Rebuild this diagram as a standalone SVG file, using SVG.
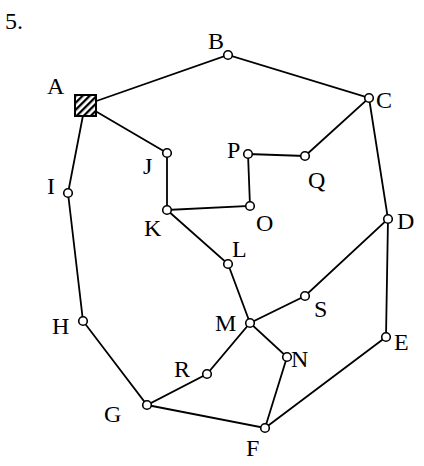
<svg xmlns="http://www.w3.org/2000/svg" width="424" height="466" viewBox="0 0 424 466">
<style>
.e{stroke:#000;stroke-width:1.8;fill:none;stroke-linecap:round}
.n{fill:#fff;stroke:#000;stroke-width:1.6}
text{font-family:"Liberation Serif","Times New Roman",serif;font-size:24px;fill:#000}
</style>
<defs>
<pattern id="h" patternUnits="userSpaceOnUse" width="5" height="5" patternTransform="rotate(45)">
<rect width="5" height="5" fill="#fff"/>
<line x1="1" y1="0" x2="1" y2="5" stroke="#000" stroke-width="2.6"/>
</pattern>
</defs>
<rect width="424" height="466" fill="#fff"/>
<text x="5" y="29">5.</text>
<g id="edges">
<path class="e" d="M85,105 L228,55 L369,98 L305,156 L248,154 L250,206 L167,210 L167,153 L85,105"/>
<path class="e" d="M85,105 L68,193 L83,321 L147,405 L207,374 L250,323 L305,296 L388,219 L369,98"/>
<path class="e" d="M388,219 L386,337 L265,428 L147,405"/>
<path class="e" d="M265,428 L287,357 L250,323 L228,264 L167,210"/>
</g>
<g id="A"><rect x="75" y="95" width="21" height="21" fill="url(#h)" stroke="#000" stroke-width="2"/><text x="47" y="94">A</text></g>
<g id="B"><circle class="n" cx="228" cy="55" r="4.3"/><text x="208" y="49">B</text></g>
<g id="C"><circle class="n" cx="369" cy="98" r="4.3"/><text x="376" y="108">C</text></g>
<g id="D"><circle class="n" cx="388" cy="219" r="4.3"/><text x="397" y="229">D</text></g>
<g id="E"><circle class="n" cx="386" cy="337" r="4.3"/><text x="394" y="350">E</text></g>
<g id="F"><circle class="n" cx="265" cy="428" r="4.3"/><text x="246" y="456">F</text></g>
<g id="G"><circle class="n" cx="147" cy="405" r="4.3"/><text x="104" y="422">G</text></g>
<g id="H"><circle class="n" cx="83" cy="321" r="4.3"/><text x="52" y="334">H</text></g>
<g id="I"><circle class="n" cx="68" cy="193" r="4.3"/><text x="47" y="194">I</text></g>
<g id="J"><circle class="n" cx="167" cy="153" r="4.3"/><text x="143" y="174">J</text></g>
<g id="K"><circle class="n" cx="167" cy="210" r="4.3"/><text x="144" y="236">K</text></g>
<g id="L"><circle class="n" cx="228" cy="264" r="4.3"/><text x="232" y="257">L</text></g>
<g id="M"><circle class="n" cx="250" cy="323" r="4.3"/><text x="215" y="331">M</text></g>
<g id="N"><circle class="n" cx="287" cy="357" r="4.3"/><text x="291" y="367">N</text></g>
<g id="O"><circle class="n" cx="250" cy="206" r="4.3"/><text x="256" y="231">O</text></g>
<g id="P"><circle class="n" cx="248" cy="154" r="4.3"/><text x="227" y="158">P</text></g>
<g id="Q"><circle class="n" cx="305" cy="156" r="4.3"/><text x="308" y="188">Q</text></g>
<g id="R"><circle class="n" cx="207" cy="374" r="4.3"/><text x="174" y="377">R</text></g>
<g id="S"><circle class="n" cx="305" cy="296" r="4.3"/><text x="314" y="317">S</text></g>
</svg>
